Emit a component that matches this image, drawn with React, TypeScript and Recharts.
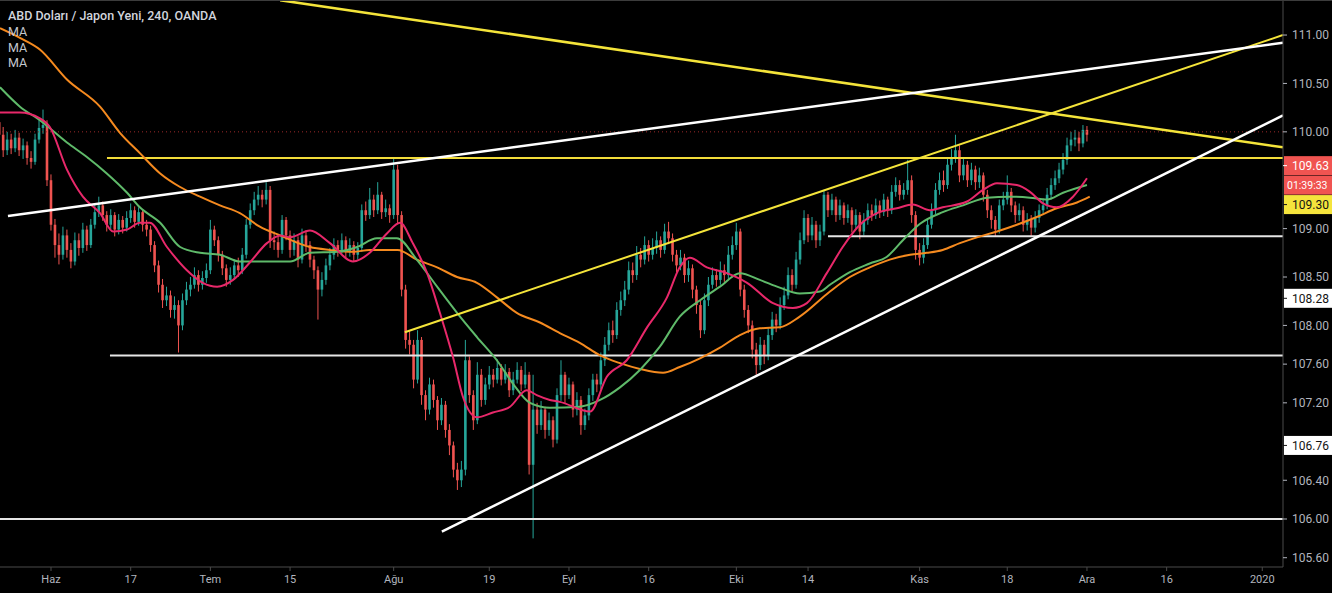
import React from 'react';
import { ComposedChart, Bar, Line, XAxis, YAxis, ReferenceLine } from 'recharts';

const FIRST_OPEN = 110.1;

const CLOSES = [
  109.97, 109.81, 109.92, 109.83, 109.94, 109.81, 109.86, 109.73, 109.69, 109.92,
  110.04, 110.07, 109.50, 109.04, 108.83, 108.73, 108.93, 108.78, 108.66, 108.88,
  108.80, 108.99, 108.83, 109.04, 109.17, 109.24, 109.14, 109.04, 109.14, 108.99,
  109.09, 109.01, 109.11, 109.19, 109.07, 109.17, 109.04, 108.99, 108.83, 108.62,
  108.42, 108.26, 108.31, 108.16, 108.21, 108.00, 108.26, 108.37, 108.42, 108.52,
  108.42, 108.49, 108.57, 108.99, 108.88, 108.73, 108.59, 108.47, 108.52, 108.62,
  108.57, 108.73, 109.04, 109.19, 109.30, 109.35, 109.30, 109.40, 108.88, 108.86,
  108.78, 109.09, 108.93, 108.78, 108.88, 108.68, 108.93, 108.83, 108.68, 108.57,
  108.37, 108.47, 108.62, 108.73, 108.83, 108.78, 108.88, 108.76, 108.83, 108.73,
  108.80, 109.19, 109.14, 109.30, 109.19, 109.35, 109.17, 109.21, 109.14, 109.61,
  109.14, 108.37, 107.85, 107.80, 107.44, 107.85, 107.28, 107.13, 107.39, 107.23,
  107.02, 107.18, 106.92, 106.76, 106.51, 106.40, 106.51, 107.64, 107.28, 107.02,
  107.49, 107.23, 107.39, 107.49, 107.44, 107.56, 107.44, 107.52, 107.33, 107.44,
  107.54, 107.39, 107.49, 106.56, 107.13, 106.97, 107.13, 106.92, 107.02, 106.82,
  107.28, 107.49, 107.28, 107.39, 107.13, 107.23, 106.97, 107.07, 107.28, 107.44,
  107.39, 107.64, 107.80, 107.95, 107.90, 108.16, 108.26, 108.37, 108.57, 108.52,
  108.73, 108.68, 108.83, 108.73, 108.80, 108.88, 108.78, 108.97, 108.90, 108.73,
  108.62, 108.70, 108.52, 108.59, 108.37, 108.21, 107.95, 108.26, 108.42, 108.52,
  108.47, 108.57, 108.52, 108.73, 108.83, 108.97, 108.37, 108.16, 108.00, 107.75,
  107.59, 107.80, 107.69, 107.90, 108.06, 108.00, 108.21, 108.31, 108.52, 108.42,
  108.68, 108.88, 109.11, 108.93, 109.04, 108.88, 108.97, 109.35, 109.19, 109.30,
  109.14, 109.24, 109.11, 109.19, 109.04, 109.14, 108.97, 109.09, 109.19, 109.14,
  109.24, 109.17, 109.30, 109.19, 109.38, 109.45, 109.35, 109.40, 109.50, 109.14,
  108.78, 108.70, 108.83, 109.04, 109.19, 109.40, 109.50, 109.45, 109.66, 109.73,
  109.81, 109.55, 109.66, 109.50, 109.61, 109.48, 109.55, 109.35, 109.19, 109.09,
  108.99, 109.24, 109.30, 109.38, 109.24, 109.14, 109.19, 109.04, 109.09, 109.01,
  109.11, 109.19, 109.24, 109.35, 109.45, 109.52, 109.61, 109.71, 109.86, 109.92,
  109.94, 109.88, 110.02, 109.97,
];

const HIGHS = [
  110.38, 110.05, 110.00, 109.98, 110.02, 109.99, 109.93, 109.90, 109.80, 109.98,
  110.12, 110.23, 110.12, 109.56, 109.10, 108.95, 109.02, 108.99, 108.85, 108.96,
  108.95, 109.06, 109.03, 109.10, 109.25, 109.33, 109.28, 109.18, 109.20, 109.17,
  109.15, 109.13, 109.18, 109.26, 109.23, 109.22, 109.20, 109.09, 109.03, 108.87,
  108.67, 108.48, 108.40, 108.36, 108.30, 108.26, 108.33, 108.45, 108.50, 108.60,
  108.57, 108.56, 108.64, 109.09, 109.03, 108.92, 108.77, 108.63, 108.60, 108.68,
  108.70, 108.80, 109.10, 109.26, 109.38, 109.44, 109.40, 109.48, 109.44, 108.97,
  108.93, 109.14, 109.12, 108.98, 108.95, 108.92, 109.00, 108.98, 108.87, 108.72,
  108.61, 108.55, 108.69, 108.80, 108.90, 108.88, 108.95, 108.92, 108.90, 108.87,
  108.86, 109.25, 109.28, 109.42, 109.35, 109.48, 109.38, 109.30, 109.25, 109.74,
  109.66, 109.18, 108.42, 107.95, 107.85, 107.95, 107.88, 107.33, 107.46, 107.44,
  107.27, 107.25, 107.22, 106.98, 106.80, 106.58, 106.60, 107.85, 107.68, 107.33,
  107.62, 107.55, 107.46, 107.58, 107.55, 107.65, 107.60, 107.60, 107.56, 107.52,
  107.62, 107.58, 107.62, 107.52, 107.49, 107.20, 107.22, 107.16, 107.10, 107.06,
  107.35, 107.64, 107.52, 107.46, 107.42, 107.31, 107.27, 107.14, 107.35, 107.50,
  107.50, 107.72, 107.88, 108.03, 108.05, 108.24, 108.35, 108.46, 108.66, 108.65,
  108.82, 108.80, 108.92, 108.88, 108.90, 108.97, 108.92, 109.05, 109.07, 108.95,
  108.78, 108.78, 108.74, 108.67, 108.63, 108.41, 108.26, 108.33, 108.50, 108.60,
  108.58, 108.66, 108.63, 108.82, 108.92, 109.06, 109.00, 108.42, 108.21, 108.05,
  107.82, 107.88, 107.85, 107.97, 108.14, 108.12, 108.29, 108.40, 108.60, 108.58,
  108.76, 108.96, 109.19, 109.15, 109.12, 109.08, 109.04, 109.40, 109.38, 109.36,
  109.33, 109.30, 109.27, 109.25, 109.22, 109.20, 109.17, 109.16, 109.26, 109.25,
  109.31, 109.29, 109.36, 109.33, 109.45, 109.53, 109.50, 109.47, 109.71, 109.55,
  109.18, 108.85, 108.90, 109.10, 109.26, 109.47, 109.58, 109.60, 109.74, 109.82,
  109.97, 109.86, 109.74, 109.70, 109.68, 109.65, 109.63, 109.58, 109.40, 109.24,
  109.13, 109.30, 109.38, 109.55, 109.42, 109.28, 109.26, 109.23, 109.16, 109.14,
  109.18, 109.25, 109.31, 109.42, 109.52, 109.60, 109.68, 109.78, 109.94, 110.00,
  110.02, 110.00, 110.07, 110.06,
];

const LOWS = [
  109.85, 109.74, 109.76, 109.77, 109.79, 109.75, 109.72, 109.66, 109.62, 109.66,
  109.88, 109.98, 109.44, 108.98, 108.70, 108.63, 108.68, 108.70, 108.59, 108.62,
  108.72, 108.75, 108.77, 108.80, 109.00, 109.12, 109.08, 108.97, 108.99, 108.92,
  108.94, 108.95, 108.97, 109.06, 109.01, 109.03, 108.97, 108.92, 108.76, 108.55,
  108.34, 108.18, 108.20, 108.08, 108.07, 107.72, 107.95, 108.21, 108.30, 108.38,
  108.35, 108.37, 108.44, 108.53, 108.82, 108.66, 108.52, 108.40, 108.42, 108.47,
  108.50, 108.53, 108.69, 109.00, 109.14, 109.24, 109.22, 109.25, 108.80, 108.78,
  108.70, 108.74, 108.88, 108.70, 108.72, 108.60, 108.64, 108.76, 108.60, 108.48,
  108.06, 108.30, 108.42, 108.57, 108.68, 108.71, 108.74, 108.70, 108.71, 108.66,
  108.68, 108.76, 109.08, 109.10, 109.12, 109.15, 109.10, 109.12, 109.06, 109.10,
  109.05, 108.30, 107.76, 107.70, 107.35, 107.40, 107.18, 107.02, 107.08, 107.15,
  106.92, 106.97, 106.84, 106.66, 106.43, 106.30, 106.33, 106.45, 107.20, 106.92,
  106.98, 107.16, 107.18, 107.34, 107.36, 107.40, 107.38, 107.40, 107.26, 107.28,
  107.40, 107.32, 107.35, 106.46, 105.80, 106.88, 106.92, 106.83, 106.86, 106.74,
  106.78, 107.22, 107.20, 107.24, 107.05, 107.07, 106.87, 106.92, 107.02, 107.22,
  107.31, 107.34, 107.58, 107.74, 107.82, 107.86, 108.10, 108.20, 108.32, 108.44,
  108.47, 108.60, 108.63, 108.66, 108.68, 108.74, 108.70, 108.74, 108.84, 108.66,
  108.55, 108.57, 108.44, 108.45, 108.28, 108.12, 107.87, 107.91, 108.20, 108.38,
  108.40, 108.42, 108.45, 108.48, 108.68, 108.78, 108.30, 108.08, 107.92, 107.66,
  107.49, 107.54, 107.60, 107.64, 107.85, 107.93, 107.96, 108.16, 108.27, 108.35,
  108.38, 108.63, 108.84, 108.86, 108.88, 108.80, 108.82, 108.93, 109.12, 109.14,
  109.07, 109.09, 109.04, 109.06, 108.96, 108.99, 108.89, 108.93, 109.04, 109.08,
  109.10, 109.11, 109.13, 109.12, 109.15, 109.33, 109.29, 109.30, 109.35, 109.06,
  108.68, 108.62, 108.64, 108.79, 109.00, 109.15, 109.35, 109.38, 109.41, 109.60,
  109.68, 109.48, 109.50, 109.43, 109.45, 109.40, 109.42, 109.28, 109.11, 109.00,
  108.92, 108.95, 109.19, 109.25, 109.17, 109.06, 109.08, 108.97, 108.98, 108.92,
  108.96, 109.06, 109.14, 109.20, 109.30, 109.40, 109.47, 109.56, 109.66, 109.80,
  109.85, 109.80, 109.84, 109.90,
];

// moving averages: [bar index, price]
const MA_FAST: [number, number][] = [
  [0.2, 110.2], [5.2, 110.2], [10.2, 110.14], [12.7, 110.05], [17, 109.61], [21, 109.33], [25.3, 109.16],
  [28.6, 108.97], [32.1, 108.99], [35.3, 109.06], [37.8, 109.06], [42.1, 108.81], [47.1, 108.57],
  [51.1, 108.44], [54.7, 108.4], [58.7, 108.47], [62.9, 108.65], [67.2, 108.85], [70.5, 108.93],
  [73, 108.91], [78, 108.98], [83, 108.85], [88.8, 108.66], [93, 108.75], [97.3, 108.95],
  [100.6, 109.06], [103.8, 108.85], [107.4, 108.54], [110.6, 108.13], [113.9, 107.67], [116.4, 107.26],
  [119.9, 107.05], [123.9, 107.1], [128.2, 107.16], [132.4, 107.33], [134.9, 107.28], [138.2, 107.23],
  [140.7, 107.21], [148.3, 107.11], [152.5, 107.47], [157.5, 107.64], [162.6, 107.98], [167.6, 108.29],
  [170.8, 108.6], [173.3, 108.7], [177.6, 108.6], [182.6, 108.54], [187.7, 108.44], [194.2, 108.23],
  [199.2, 108.18], [202.7, 108.23], [207.7, 108.54], [211.7, 108.81], [216, 109.04], [220.3, 109.16],
  [225.3, 109.21], [229.3, 109.25], [233.6, 109.19], [236.8, 109.22], [242.9, 109.28], [246.9, 109.4],
  [250.4, 109.47], [255.4, 109.45], [258.7, 109.38], [262, 109.26], [265.4, 109.22], [269.5, 109.33],
  [273, 109.52],
];

const MA_MID: [number, number][] = [
  [0.2, 110.46], [5.2, 110.26], [10.2, 110.12], [17, 109.89], [22, 109.74], [27, 109.57], [32.1, 109.37],
  [35.3, 109.22], [40.4, 109.06], [45.4, 108.81], [50.4, 108.75], [55.4, 108.73], [60.4, 108.66],
  [65.4, 108.66], [73, 108.66], [78, 108.75], [84.8, 108.76], [89.8, 108.81], [94.8, 108.9],
  [99.8, 108.9], [104.8, 108.68], [109.9, 108.4], [114.9, 108.13], [119.9, 107.88], [124.9, 107.64],
  [128.9, 107.4], [133.2, 107.2], [138.2, 107.15], [145.7, 107.16], [150.8, 107.23], [155.8, 107.36],
  [160.8, 107.54], [165.8, 107.78], [170.8, 108.09], [175.9, 108.26], [180.9, 108.4], [185.9, 108.54],
  [190.9, 108.47], [195.9, 108.39], [200.9, 108.33], [206, 108.35], [208.5, 108.42], [213.5, 108.55],
  [218.5, 108.64], [222.8, 108.71], [226.8, 108.88], [231.1, 109.05], [236.8, 109.17], [241.9, 109.24],
  [247.9, 109.32], [253.6, 109.33], [258.7, 109.32], [263, 109.3], [267, 109.37], [273, 109.45],
];

const MA_SLOW: [number, number][] = [
  [0.2, 111.07], [5.2, 110.97], [10.2, 110.85], [17, 110.54], [25.3, 110.26], [30.3, 109.99],
  [35.3, 109.78], [40.4, 109.57], [45.4, 109.43], [50.4, 109.33], [55.4, 109.24], [60.4, 109.16],
  [65.4, 109.02], [70.5, 108.93], [78, 108.81], [83, 108.78], [88.8, 108.76], [93, 108.78],
  [100, 108.78], [104.8, 108.68], [109.9, 108.6], [114.9, 108.5], [119.9, 108.44], [124.9, 108.29],
  [129.9, 108.13], [135.7, 108.03], [140.7, 107.92], [145.7, 107.82], [150.8, 107.69], [155.8, 107.61],
  [160.8, 107.55], [166.6, 107.51], [170.8, 107.57], [175.9, 107.66], [180.9, 107.77], [185.9, 107.9],
  [190.9, 107.97], [195.9, 107.98], [200.9, 108.09], [208.5, 108.35], [213.5, 108.5], [218.5, 108.6],
  [223.5, 108.68], [228.6, 108.73], [232.8, 108.75], [236.8, 108.78], [241.1, 108.85], [245.4, 108.91],
  [250.4, 108.97], [255.4, 109.04], [260.4, 109.12], [265.4, 109.21], [270.5, 109.27], [273.7, 109.33],
];

const X_TICKS = [13, 33, 53, 73, 99, 123, 143, 163, 185, 203, 231, 253, 273, 293, 317];
const X_LABELS = ['Haz', '17', 'Tem', '15', 'Ağu', '19', 'Eyl', '16', 'Eki', '14', 'Kas', '18', 'Ara', '16', '2020'];
const Y_TICKS = [105.6, 106.0, 106.4, 106.76, 107.2, 107.6, 108.0, 108.28, 108.5, 109.0, 109.3, 109.63, 110.0, 110.5, 111.0];

const X_DOMAIN: [number, number] = [0.2, 322.2];
const Y_DOMAIN: [number, number] = [105.504, 111.362];

const UP = '#26a69a';
const DOWN = '#ef5350';
const AXIS = '#4a4a4a';
const TEXT = '#b2b5be';

const candles = CLOSES.map((close, i) => ({
  i,
  open: i === 0 ? FIRST_OPEN : CLOSES[i - 1],
  close,
  high: HIGHS[i],
  low: LOWS[i],
  range: [LOWS[i], HIGHS[i]],
}));

const toSeries = (pts: [number, number][]) => pts.map(([i, v]) => ({ i, v }));
const fastData = toSeries(MA_FAST);
const midData = toSeries(MA_MID);
const slowData = toSeries(MA_SLOW);

const SPECIAL: Record<string, { bg: string; fg: string; dy: number; extra?: string }> = {
  '109.63': { bg: '#f05451', fg: '#ffffff', dy: -2, extra: '01:39:33' },
  '109.30': { bg: '#f5e43c', fg: '#131313', dy: 5 },
  '108.28': { bg: '#ffffff', fg: '#131313', dy: 0 },
  '106.76': { bg: '#ffffff', fg: '#131313', dy: 0 },
};

function Candle(props: any) {
  const { x, y, width, height, payload } = props;
  if (!payload || x == null || y == null) return null;
  const top = Math.min(y, y + height);
  const h = Math.abs(height);
  const { open, close, high, low } = payload;
  const span = high - low || 1;
  const py = (v: number) => top + (h * (high - v)) / span;
  const cx = x + width / 2;
  const color = close >= open ? UP : DOWN;
  const bTop = py(Math.max(open, close));
  const bBot = py(Math.min(open, close));
  return (
    <g>
      <line x1={cx} x2={cx} y1={top} y2={top + h} stroke={color} strokeWidth={1} />
      <rect x={cx - 1.3} y={bTop} width={2.6} height={Math.max(1, bBot - bTop)} fill={color} />
    </g>
  );
}

function YTick(props: any) {
  const { x, y, payload } = props;
  const v = Number(payload.value);
  const key = v.toFixed(2);
  const ax = x - 8;
  const sp = SPECIAL[key];
  const font = { fontFamily: 'Roboto, "DejaVu Sans", sans-serif', fontSize: 12 };
  if (sp) {
    const cy = y + sp.dy;
    return (
      <g>
        <rect x={ax + 1} y={cy - 9.5} width={50} height={19} fill={sp.bg} />
        <line x1={ax} x2={ax + 4} y1={cy} y2={cy} stroke={sp.fg} />
        <text x={ax + 9} y={cy} dy="0.36em" fill={sp.fg} {...font}>{key}</text>
        {sp.extra ? (
          <g>
            <rect x={ax + 1} y={cy + 10} width={50} height={19} fill={sp.bg} />
            <text x={ax + 4} y={cy + 19.5} dy="0.36em" fill={sp.fg} fontFamily='Roboto, "DejaVu Sans", sans-serif' fontSize={10.5}>{sp.extra}</text>
          </g>
        ) : null}
      </g>
    );
  }
  return (
    <g>
      <line x1={ax} x2={ax + 4} y1={y} y2={y} stroke={TEXT} />
      <text x={ax + 9} y={y} dy="0.36em" fill={TEXT} {...font}>{key}</text>
    </g>
  );
}

export default function App() {
  return (
    <div style={{ position: 'absolute', left: 0, top: 0, width: 1332, height: 593, background: '#000', overflow: 'hidden' }}>
      <ComposedChart width={1332} height={593} data={candles} margin={{ top: 0, right: 0, bottom: 0, left: 0 }}>
        <XAxis
          type="number"
          dataKey="i"
          domain={X_DOMAIN}
          allowDataOverflow
          ticks={X_TICKS}
          interval={0}
          tickFormatter={(v: number) => X_LABELS[X_TICKS.indexOf(v)] ?? ''}
          height={26}
          axisLine={{ stroke: AXIS }}
          tickLine={{ stroke: AXIS }}
          tickSize={4}
          tickMargin={4}
          tick={{ fill: TEXT, fontSize: 11, fontFamily: '"Liberation Sans Narrow", Roboto, sans-serif' }}
        />
        <YAxis
          orientation="right"
          type="number"
          domain={Y_DOMAIN}
          allowDataOverflow
          ticks={Y_TICKS}
          interval={0}
          width={49}
          axisLine={{ stroke: AXIS }}
          tickLine={false}
          tickSize={4}
          tickMargin={4}
          tick={YTick}
        />

        <ReferenceLine y={110.0} stroke="#9c2a2a" strokeDasharray="1 3" strokeWidth={1} ifOverflow="hidden" />
        <ReferenceLine y={106.0} stroke="#e6e6e6" strokeWidth={2} ifOverflow="hidden" />
        <ReferenceLine segment={[{ x: 27.8, y: 107.69 }, { x: 322.2, y: 107.69 }]} stroke="#e6e6e6" strokeWidth={2} ifOverflow="hidden" />
        <ReferenceLine segment={[{ x: 208, y: 108.92 }, { x: 322.2, y: 108.92 }]} stroke="#e6e6e6" strokeWidth={2} ifOverflow="hidden" />
        <ReferenceLine segment={[{ x: 27.05, y: 109.73 }, { x: 322.2, y: 109.73 }]} stroke="#f2dc3a" strokeWidth={2} ifOverflow="hidden" />

        <Bar dataKey="range" barSize={3} shape={Candle} isAnimationActive={false} />

        <Line data={slowData} dataKey="v" type="monotone" stroke="#f58a1f" strokeWidth={2} dot={false} isAnimationActive={false} />
        <Line data={midData} dataKey="v" type="monotone" stroke="#5fba6a" strokeWidth={2} dot={false} isAnimationActive={false} />
        <Line data={fastData} dataKey="v" type="monotone" stroke="#e8286a" strokeWidth={2} dot={false} isAnimationActive={false} />

        <ReferenceLine segment={[{ x: 70.5, y: 111.36 }, { x: 322.2, y: 109.84 }]} stroke="#f4e43a" strokeWidth={2.5} ifOverflow="hidden" />
        <ReferenceLine segment={[{ x: 101.8, y: 107.93 }, { x: 322.2, y: 111.0 }]} stroke="#f4e43a" strokeWidth={2} ifOverflow="hidden" />
        <ReferenceLine segment={[{ x: 2.2, y: 109.13 }, { x: 322.2, y: 110.92 }]} stroke="#ffffff" strokeWidth={2.5} ifOverflow="hidden" />
        <ReferenceLine segment={[{ x: 111.1, y: 105.87 }, { x: 322.2, y: 110.17 }]} stroke="#ffffff" strokeWidth={2.5} ifOverflow="hidden" />
      </ComposedChart>

      <div style={{ position: 'absolute', left: 0, top: 0, width: 1332, height: 1, background: '#3c3c3c' }} />
      <div style={{ position: 'absolute', left: 8, top: 8, color: '#d1d4dc', fontFamily: 'Roboto, sans-serif', fontWeight: 500, fontSize: 12.5, whiteSpace: 'nowrap' }}>
        ABD Doları / Japon Yeni, 240, OANDA
      </div>
      {['MA', 'MA', 'MA'].map((t, k) => (
        <div key={k} style={{ position: 'absolute', left: 8, top: 24 + k * 15.5, color: '#c4c7ce', fontFamily: 'Roboto, sans-serif', fontSize: 12.5 }}>
          {t}
        </div>
      ))}
    </div>
  );
}
